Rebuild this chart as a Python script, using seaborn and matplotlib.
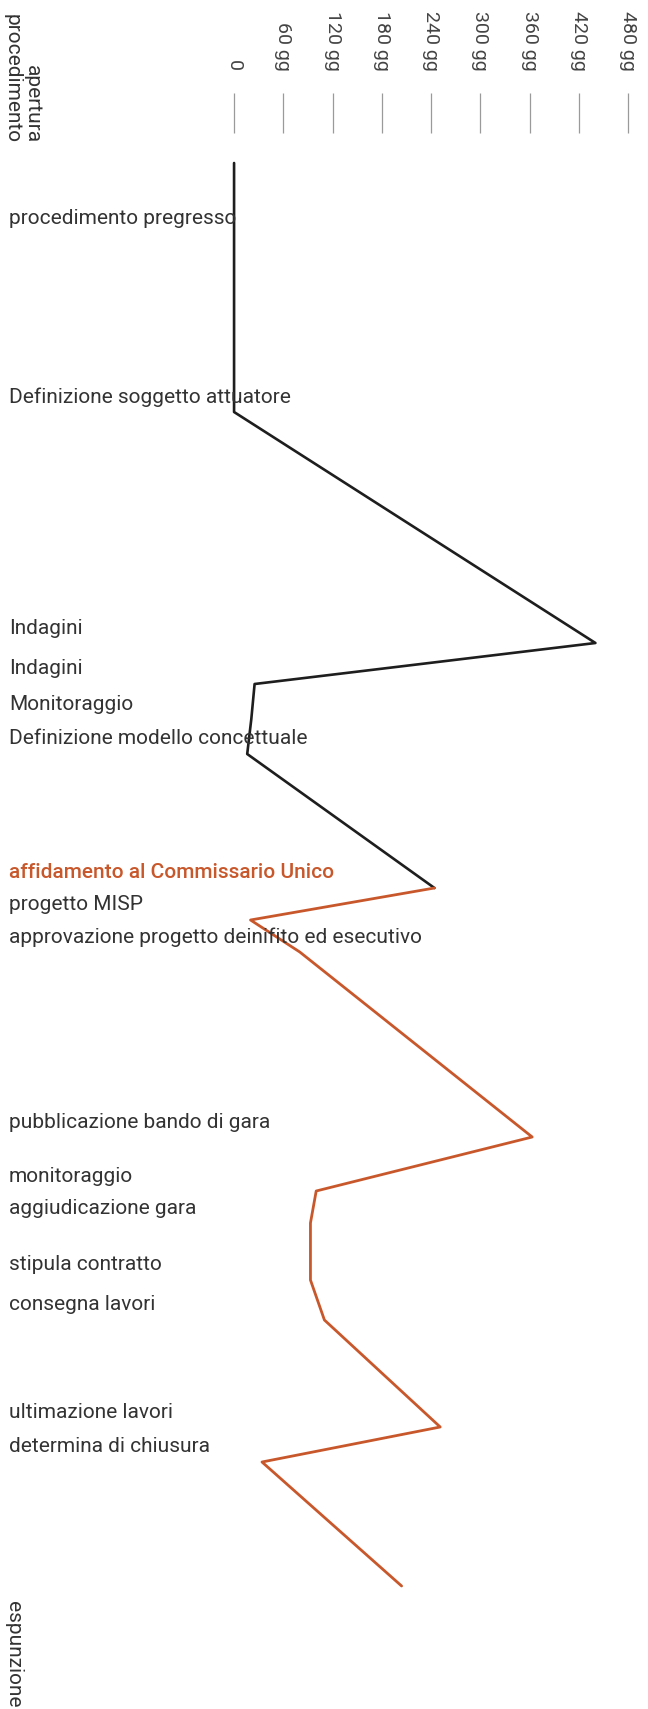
#!/usr/bin/env python3
"""
Timeline of the procedure: days elapsed per stage
"""
import matplotlib
matplotlib.use('Agg')
import matplotlib.pyplot as plt
import matplotlib.transforms as mtransforms
import pandas as pd
import seaborn as sns

# stages from top to bottom
stages = [
    'apertura procedimento',
    'procedimento pregresso',
    'Definizione soggetto attuatore',
    'Indagini',
    'Indagini',
    'Monitoraggio',
    'Definizione modello concettuale',
    'affidamento al Commissario Unico',
    'progetto MISP',
    'approvazione progetto deinifito ed esecutivo',
    'pubblicazione bando di gara',
    'monitoraggio',
    'aggiudicazione gara',
    'stipula contratto',
    'consegna lavori',
    'ultimazione lavori',
    'determina di chiusura',
    'espunzione',
]
# days spent on each stage
days = [0, 0, 0, 440, 25, 21, 16, 244, 20, 80, 363, 100, 93, 93, 110, 251, 34, 204]
# vertical position of each stage along the timeline
pos = [3.0, 10.0, 27.9, 51.0, 55.1, 58.6, 62.1, 75.5, 78.7, 81.9,
       100.4, 105.8, 109.0, 114.7, 118.7, 129.4, 132.9, 145.3]
# index where the Commissario Unico takes over
handover = 7

tick_days = [0, 60, 120, 180, 240, 300, 360, 420, 480]
tick_labels = ['0', '60 gg', '120 gg', '180 gg', '240 gg', '300 gg',
               '360 gg', '420 gg', '480 gg']

black = '#1e1e1e'
orange = '#c8582c'
text_col = '#333333'

df = pd.DataFrame({'stage': stages, 'days': days, 'pos': pos})
before = df.iloc[:handover + 1]
after = df.iloc[handover:]

sns.set_theme(style='white')
plt.rcParams['font.family'] = ['Roboto', 'DejaVu Sans']

fig = plt.figure(figsize=(6.48, 17.09), dpi=100)
# axes spans full width, top edge where the tick marks end
ax = fig.add_axes([0, 0, 1, 1 - 133 / 1709])

sns.lineplot(data=before, x='days', y='pos', sort=False, estimator=None,
             color=black, linewidth=1.9, ax=ax)
sns.lineplot(data=after, x='days', y='pos', sort=False, estimator=None,
             color=orange, linewidth=2.0, ax=ax)

ax.set_xlim(-285, 504)
ax.set_ylim(157.6, 0)
for s in ax.spines.values():
    s.set_visible(False)
ax.set_xlabel('')
ax.set_ylabel('')
ax.set_yticks([])
ax.xaxis.tick_top()
ax.set_xticks(tick_days)
ax.set_xticklabels(tick_labels)
ax.tick_params(axis='x', top=True, bottom=False, length=29, width=0.9,
               color='#9a9a9a', pad=16, labelrotation=270, labelsize=14,
               labelcolor='#444444')

# stage labels on the left
trans = mtransforms.blended_transform_factory(ax.transAxes, ax.transData)
for i in range(1, len(stages) - 1):
    col = orange if i == handover else text_col
    weight = 'medium' if i == handover else 'normal'
    ax.text(0.014, pos[i] - 1.5, stages[i], transform=trans, ha='left',
            va='center', fontsize=15, color=col, fontweight=weight)

# start and end labels, rotated
fig.text(3 / 648, 1 - 143 / 1709, 'apertura\nprocedimento', rotation=270,
         ha='left', va='bottom', multialignment='right', fontsize=15,
         color=text_col, linespacing=1.05)
fig.text(4 / 648, 0.001, 'espunzione', rotation=270, ha='left', va='bottom',
         fontsize=15, color=text_col)

plt.savefig('out.png', dpi=100)
plt.close()
